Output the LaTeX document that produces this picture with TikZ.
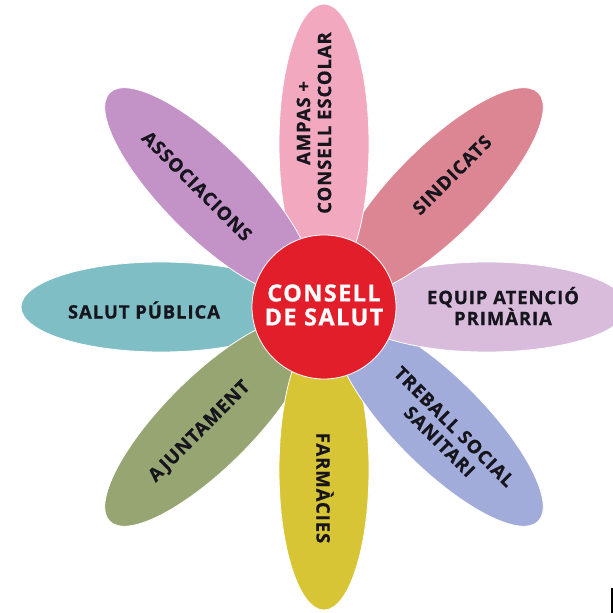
\documentclass[tikz,border=0pt]{standalone}
\usepackage{fontspec}
\setmainfont{Open Sans}
\newfontfamily\lblfont{Open Sans}[BoldFont={* Bold}, BoldFeatures={LetterSpace=5, FakeBold=0.6}]
\newfontfamily\ctrfont{Open Sans}[BoldFont={* Bold}, BoldFeatures={LetterSpace=6, FakeBold=0.8}]
\usetikzlibrary{shapes.geometric,calc}
\definecolor{cAmpas}{HTML}{F2A8BE}
\definecolor{cSind}{HTML}{DB8692}
\definecolor{cEquip}{HTML}{D9BCDC}
\definecolor{cTreb}{HTML}{A2ACDA}
\definecolor{cFarm}{HTML}{D7C536}
\definecolor{cAjunt}{HTML}{96A572}
\definecolor{cSalut}{HTML}{80BEC6}
\definecolor{cAssoc}{HTML}{C392C7}
\definecolor{cCentre}{HTML}{E31E2B}
\definecolor{cText}{HTML}{16141C}
\tikzset{
  petal/.style={ellipse, draw=white, line width=0.8pt, inner sep=0pt,
    minimum width=280pt, minimum height=90pt},
  lbl/.style={text=cText, font=\lblfont\bfseries\fontsize{18.5}{21}\selectfont, align=center, inner sep=0pt},
  centre/.style={circle, fill=cCentre, draw=white, line width=0.8pt, minimum size=144pt, inner sep=0pt},
  centretext/.style={text=white, font=\ctrfont\bfseries\fontsize{23.5}{24}\selectfont, align=center, inner sep=0pt}
}
\begin{document}
\begin{tikzpicture}[x=1pt,y=1pt]
\useasboundingbox (0,0) rectangle (613,613);
\fill[white] (0,0) rectangle (613,613);
\coordinate (c) at (324,306);
% petals
\node[petal, fill=cSalut,  rotate=180] (p180) at ($(c)+(180:163)$) {};
\node[petal, fill=cAjunt,  rotate=225] (p225) at ($(c)+(225:163)$) {};
\node[petal, fill=cFarm,   rotate=270] (p270) at ($(c)+(270:163)$) {};
\node[petal, fill=cTreb,   rotate=315] (p315) at ($(c)+(315:163)$) {};
\node[petal, fill=cEquip,  rotate=0]   (p0)   at ($(c)+(0:163)$) {};
\node[petal, fill=cSind,   rotate=45]  (p45)  at ($(c)+(45:163)$) {};
\node[petal, fill=cAmpas,  rotate=90]  (p90)  at ($(c)+(90:163)$) {};
\node[petal, fill=cAssoc,  rotate=135] (p135) at ($(c)+(135:163)$) {};
% centre
\node[centre] (centre) at (c) {};
\node[centretext] (ct) at (324,308) {CONSELL\\DE SALUT};
% labels
\node[lbl, rotate=90]  (l90)  at (314,490) {AMPAS +\\CONSELL ESCOLAR};
\node[lbl, rotate=45]  (l45)  at (452,438) {SINDICATS};
\node[lbl]             (l0)   at (503,307) {EQUIP ATENCIÓ\\PRIMÀRIA};
\node[lbl, rotate=-45] (l315) at (447,179) {TREBALL SOCIAL\\SANITARI};
\node[lbl, rotate=-90] (l270) at (325,125) {FARMÀCIES};
\node[lbl, rotate=45]  (l225) at (200,181) {AJUNTAMENT};
\node[lbl]             (l180) at (144,303) {SALUT PÚBLICA};
\node[lbl, rotate=-45] (l135) at (197,427) {ASSOCIACIONS};
% edge mark at bottom right
\fill[black] (610.5,0) rectangle (613,25);
\end{tikzpicture}
\end{document}
